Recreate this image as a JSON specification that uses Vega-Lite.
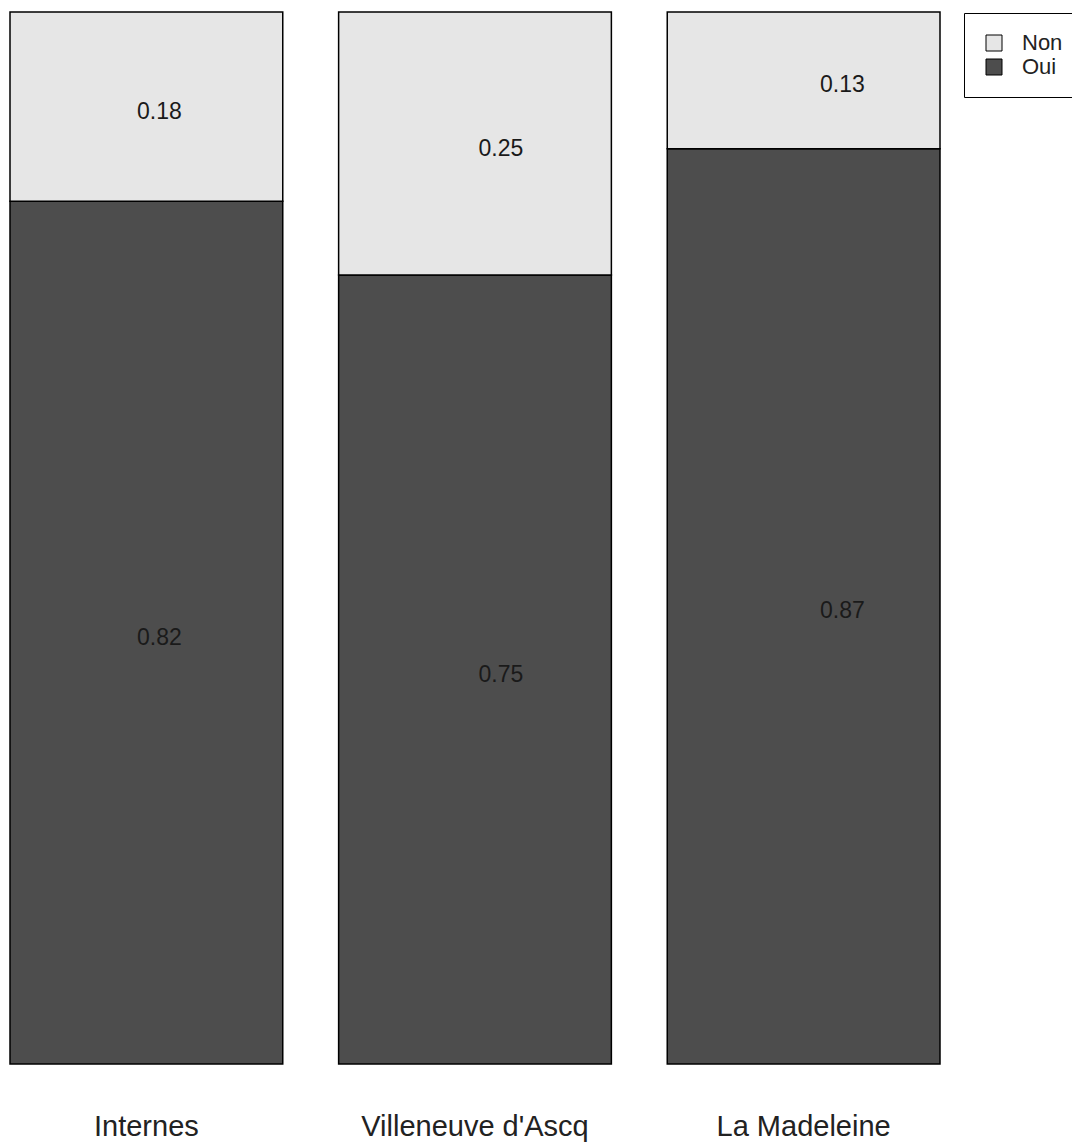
{
  "$schema": "https://vega.github.io/schema/vega-lite/v6.json",
  "autosize": "none",
  "width": 930,
  "height": 1052,
  "padding": {"left": 10, "top": 12, "right": 132, "bottom": 82},
  "background": "white",
  "config": {"view": {"stroke": null}, "font": "Liberation Sans"},
  "data": {
    "values": [
      {"site": "Internes", "reponse": "Oui", "p": 0.82},
      {"site": "Internes", "reponse": "Non", "p": 0.18},
      {"site": "Villeneuve d'Ascq", "reponse": "Oui", "p": 0.75},
      {"site": "Villeneuve d'Ascq", "reponse": "Non", "p": 0.25},
      {"site": "La Madeleine", "reponse": "Oui", "p": 0.87},
      {"site": "La Madeleine", "reponse": "Non", "p": 0.13}
    ]
  },
  "transform": [
    {"stack": "p", "groupby": ["site"], "sort": [{"field": "reponse", "order": "descending"}], "as": ["y0", "y1"]},
    {"calculate": "(datum.y0 + datum.y1) / 2", "as": "ymid"}
  ],
  "layer": [
    {
      "mark": {"type": "bar", "stroke": "black", "strokeWidth": 1.5},
      "encoding": {
        "x": {
          "field": "site",
          "type": "nominal",
          "sort": ["Internes", "Villeneuve d'Ascq", "La Madeleine"],
          "scale": {"paddingInner": 0.17, "paddingOuter": 0},
          "axis": {
            "title": null,
            "domain": false,
            "ticks": false,
            "labelAngle": 0,
            "labelFontSize": 29,
            "labelColor": "#222222",
            "labelPadding": 48,
            "labelLimit": 600,
            "labelFont": "Liberation Sans"
          }
        },
        "y": {"field": "y0", "type": "quantitative", "scale": {"domain": [0, 1], "nice": false}, "axis": null},
        "y2": {"field": "y1"},
        "color": {
          "field": "reponse",
          "type": "nominal",
          "scale": {"domain": ["Non", "Oui"], "range": ["#E6E6E6", "#4D4D4D"]},
          "legend": {
            "title": null,
            "orient": "none",
            "legendX": 954,
            "legendY": 1,
            "direction": "vertical",
            "strokeColor": "black",
            "fillColor": "white",
            "padding": 19,
            "symbolType": "square",
            "symbolSize": 256,
            "symbolStrokeColor": "black",
            "symbolStrokeWidth": 1,
            "labelFontSize": 22,
            "labelFont": "Liberation Sans",
            "labelColor": "#222222",
            "labelOffset": 17,
            "rowPadding": 2,
            "labelLimit": 200
          }
        }
      }
    },
    {
      "mark": {"type": "text", "fontSize": 23, "color": "#1a1a1a", "baseline": "middle", "align": "center", "dy": 5},
      "encoding": {
        "x": {
          "field": "site",
          "type": "nominal",
          "sort": ["Internes", "Villeneuve d'Ascq", "La Madeleine"],
          "scale": {"type": "point", "padding": 0.3616, "align": 0.605},
          "axis": null
        },
        "y": {"field": "ymid", "type": "quantitative", "scale": {"domain": [0, 1], "nice": false}},
        "text": {"field": "p", "type": "quantitative", "format": ".2f"}
      }
    }
  ],
  "resolve": {"scale": {"x": "independent"}}
}
